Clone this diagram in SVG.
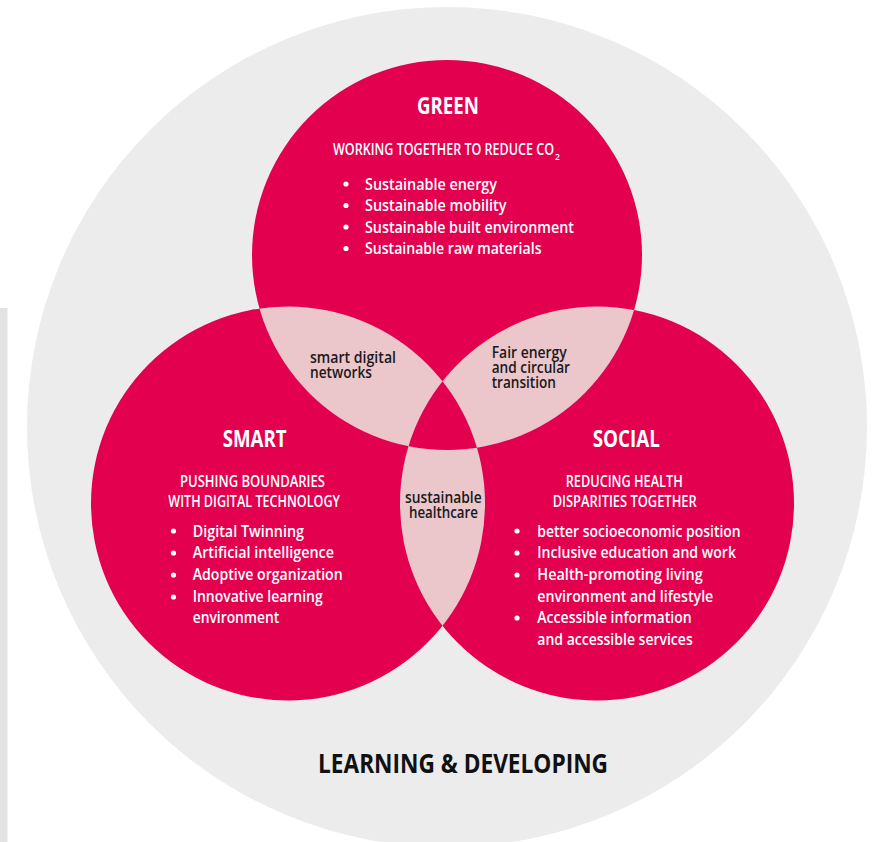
<svg xmlns="http://www.w3.org/2000/svg" width="882" height="842" viewBox="0 0 882 842">
<style>
text{font-family:"Open Sans","Liberation Sans",sans-serif;}
.w{fill:#ffffff;font-weight:600;}
.t{fill:#ffffff;font-weight:700;font-size:24px;text-anchor:middle;}
.h{fill:#ffffff;font-weight:600;font-size:16px;}
.b{fill:#ffffff;font-weight:600;font-size:16.5px;}
.k{fill:#1a1a1a;font-weight:600;font-size:15.5px;}
.red{fill:#e2004f;}
.pale{fill:#ebc6cb;}
</style>
<defs>
<clipPath id="cG"><circle cx="447" cy="255" r="195"/></clipPath>
<clipPath id="cSm"><circle cx="288" cy="503.5" r="197"/></clipPath>
</defs>
<rect x="0" y="0" width="882" height="842" fill="#ffffff"/>
<rect x="0" y="308" width="7.5" height="534" fill="#e3e3e3"/>
<g id="learning">
<circle cx="447" cy="427" r="420" fill="#ececec"/>
<text x="463" y="773" style="font-weight:700;font-size:27px;fill:#111111" textLength="290" lengthAdjust="spacingAndGlyphs" text-anchor="middle">LEARNING &amp; DEVELOPING</text>
</g>
<g id="circles">
<circle id="c-green" class="red" cx="447" cy="255" r="195"/>
<circle id="c-smart" class="red" cx="288" cy="503.5" r="197"/>
<circle id="c-social" class="red" cx="597" cy="503.5" r="197"/>
<g clip-path="url(#cG)">
<circle class="pale" cx="288" cy="503.5" r="197"/>
<circle class="pale" cx="597" cy="503.5" r="197"/>
</g>
<g clip-path="url(#cSm)">
<circle class="pale" cx="597" cy="503.5" r="197"/>
</g>
<g clip-path="url(#cG)">
<circle class="red" cx="597" cy="503.5" r="197" clip-path="url(#cSm)"/>
</g>
</g>
<g id="green">
<text class="t" x="448" y="114" textLength="62" lengthAdjust="spacingAndGlyphs">GREEN</text>
<text class="h" x="333" y="155" textLength="221" lengthAdjust="spacingAndGlyphs">WORKING TOGETHER TO REDUCE CO</text>
<text class="w" x="555" y="160" font-size="8.5">2</text>
<g class="b">
<circle cx="346" cy="184" r="2.6" fill="#fff"/>
<circle cx="346" cy="205.5" r="2.6" fill="#fff"/>
<circle cx="346" cy="227" r="2.6" fill="#fff"/>
<circle cx="346" cy="248.5" r="2.6" fill="#fff"/>
<text x="365" y="189.5" textLength="132" lengthAdjust="spacingAndGlyphs">Sustainable energy</text>
<text x="365" y="211" textLength="141.5" lengthAdjust="spacingAndGlyphs">Sustainable mobility</text>
<text x="365" y="232.5" textLength="209" lengthAdjust="spacingAndGlyphs">Sustainable built environment</text>
<text x="365" y="254" textLength="176.5" lengthAdjust="spacingAndGlyphs">Sustainable raw materials</text>
</g>
</g>
<g id="smart">
<text class="t" x="254.7" y="446.7" textLength="64" lengthAdjust="spacingAndGlyphs">SMART</text>
<text class="h" x="180" y="487.3" textLength="145" lengthAdjust="spacingAndGlyphs">PUSHING BOUNDARIES</text>
<text class="h" x="168.3" y="507.3" textLength="171.7" lengthAdjust="spacingAndGlyphs">WITH DIGITAL TECHNOLOGY</text>
<g class="b">
<circle cx="173.5" cy="531" r="2.6" fill="#fff"/>
<circle cx="173.5" cy="553" r="2.6" fill="#fff"/>
<circle cx="173.5" cy="575" r="2.6" fill="#fff"/>
<circle cx="173.5" cy="597" r="2.6" fill="#fff"/>
<text x="192.7" y="536.5" textLength="111.3" lengthAdjust="spacingAndGlyphs">Digital Twinning</text>
<text x="192.7" y="558.3" textLength="141.3" lengthAdjust="spacingAndGlyphs">Artificial intelligence</text>
<text x="192.7" y="580.1" textLength="150" lengthAdjust="spacingAndGlyphs">Adoptive organization</text>
<text x="192.7" y="601.9" textLength="130" lengthAdjust="spacingAndGlyphs">Innovative learning</text>
<text x="192.7" y="623" textLength="86.6" lengthAdjust="spacingAndGlyphs">environment</text>
</g>
</g>
<g id="social">
<text class="t" x="626.3" y="446.7" textLength="67.3" lengthAdjust="spacingAndGlyphs">SOCIAL</text>
<text class="h" x="565.7" y="487.3" textLength="117" lengthAdjust="spacingAndGlyphs">REDUCING HEALTH</text>
<text class="h" x="552.7" y="507.3" textLength="144" lengthAdjust="spacingAndGlyphs">DISPARITIES TOGETHER</text>
<g class="b">
<circle cx="517" cy="531" r="2.6" fill="#fff"/>
<circle cx="517" cy="553" r="2.6" fill="#fff"/>
<circle cx="517" cy="575" r="2.6" fill="#fff"/>
<circle cx="517" cy="618" r="2.6" fill="#fff"/>
<text x="537.3" y="536.7" textLength="203.4" lengthAdjust="spacingAndGlyphs">better socioeconomic position</text>
<text x="537.3" y="558.3" textLength="198.7" lengthAdjust="spacingAndGlyphs">Inclusive education and work</text>
<text x="537.3" y="580" textLength="165.4" lengthAdjust="spacingAndGlyphs">Health-promoting living</text>
<text x="537.3" y="601.5" textLength="176" lengthAdjust="spacingAndGlyphs">environment and lifestyle</text>
<text x="537.3" y="623.3" textLength="154.4" lengthAdjust="spacingAndGlyphs">Accessible information</text>
<text x="537.3" y="644.7" textLength="155.4" lengthAdjust="spacingAndGlyphs">and accessible services</text>
</g>
</g>
<g id="smart-digital-networks">
<text class="k" x="310" y="363" textLength="86" lengthAdjust="spacingAndGlyphs">smart digital</text>
<text class="k" x="310" y="378" textLength="62" lengthAdjust="spacingAndGlyphs">networks</text>
</g>
<g id="fair-energy">
<text class="k" x="491.7" y="358" textLength="75" lengthAdjust="spacingAndGlyphs">Fair energy</text>
<text class="k" x="491.7" y="373" textLength="78.3" lengthAdjust="spacingAndGlyphs">and circular</text>
<text class="k" x="491.7" y="388" textLength="64.3" lengthAdjust="spacingAndGlyphs">transition</text>
</g>
<g id="sustainable-healthcare">
<text class="k" x="443.3" y="503.3" text-anchor="middle" textLength="76.7" lengthAdjust="spacingAndGlyphs">sustainable</text>
<text class="k" x="443.5" y="518" text-anchor="middle" textLength="69" lengthAdjust="spacingAndGlyphs">healthcare</text>
</g>
</svg>
